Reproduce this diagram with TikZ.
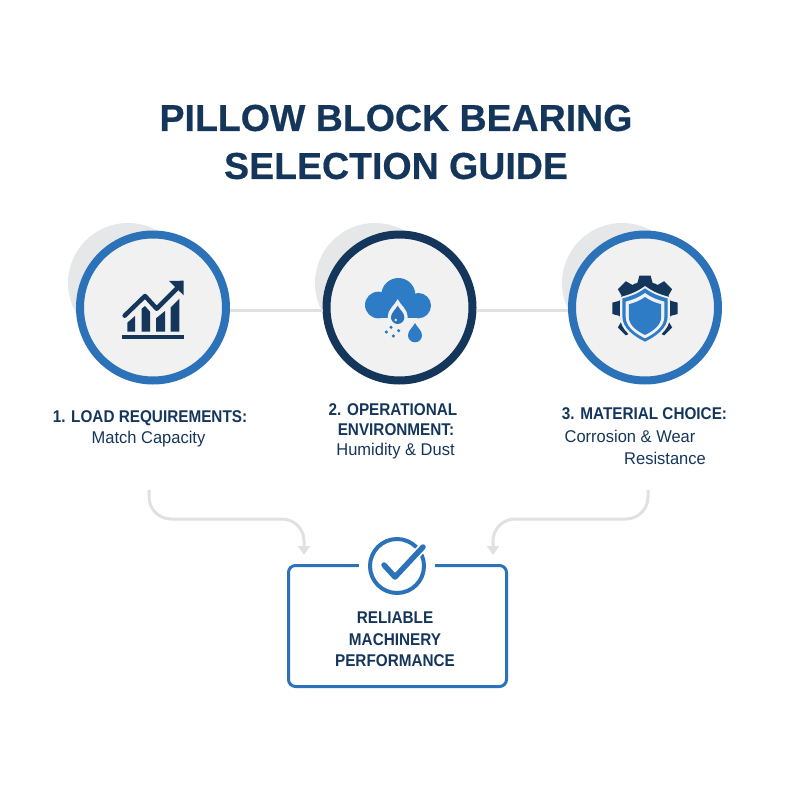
\documentclass[tikz,border=0pt]{standalone}
\usepackage{fontspec}
\setmainfont{Liberation Sans}
\newfontfamily\titlefont[BoldFeatures={FakeBold=.5}]{Liberation Sans}
\newfontfamily\labelfont[FakeStretch=.9]{Liberation Sans}
\newfontfamily\subfont[FakeStretch=.97]{Liberation Sans}
\usepackage{xcolor}
\usetikzlibrary{arrows.meta}
\definecolor{navy}{HTML}{15365B}
\definecolor{ringblue}{HTML}{2B72B9}
\definecolor{iconblue}{HTML}{2F7CC6}
\definecolor{discfill}{HTML}{F1F1F2}
\definecolor{backdisc}{HTML}{E6E7E8}
\definecolor{linkgrey}{HTML}{E0E1E2}
\tikzset{
stepdisc/.style={
  circle,
  draw=ringblue,
  fill=discfill,
  line width=8pt,
  minimum size=146pt,
  inner sep=0pt
},
titletext/.style={text=navy,font=\titlefont\bfseries\fontsize{37.5}{37.5}\selectfont,inner sep=0pt},
headtext/.style={text=navy,font=\labelfont\bfseries\fontsize{17}{17}\selectfont,inner sep=0pt},
subtext/.style={text=navy,font=\subfont\fontsize{17}{17}\selectfont,inner sep=0pt},
link/.style={draw=linkgrey,line width=3pt,rounded corners=22pt},
droplet/.pic={
  \fill[pic actions] (0,-1.75) .. controls (.3,-1.15) and (1,-.7) .. (1,0)
    .. controls (1,.55) and (.55,1) .. (0,1)
    .. controls (-.55,1) and (-1,.55) .. (-1,0)
    .. controls (-1,-.7) and (-.3,-1.15) .. cycle;
},
crest/.pic={
  \fill[pic actions] (0,-1) .. controls (.3,-.78) and (.55,-.7) .. (.85,-.62)
    -- (.85,.05) .. controls (.85,.5) and (.4,.8) .. (0,1)
    .. controls (-.4,.8) and (-.85,.5) .. (-.85,.05)
    -- (-.85,-.62) .. controls (-.55,-.7) and (-.3,-.78) .. cycle;
},
}
\begin{document}
\begin{tikzpicture}[x=1pt,y=-1pt]
\useasboundingbox (0,0) rectangle (800,800);
% the title
\node (titleone) [titletext] at (396,118) {PILLOW BLOCK BEARING};
\node (titletwo) [titletext] at (396,166) {SELECTION GUIDE};
% the discs
\foreach \x in {128,375,622}
{
  \fill[backdisc] (\x,283) circle (60);
}
\node (load) [stepdisc] at (153,307.5) {};
\node (environ) [stepdisc,draw=navy] at (399.5,307.5) {};
\node (material) [stepdisc] at (645,307.5) {};
\draw[link] ([yshift=-2.5pt]load.east) -- ([yshift=-2.5pt]environ.west);
\draw[link] ([yshift=-2.5pt]environ.east) -- ([yshift=-2.5pt]material.west);
% the chart icon
\begin{scope}[shift={(60,210)},scale=1/3]
\fill[navy] (185,375) rectangle (373,387);
\fill[navy] (202,365) -- (202,338) -- (225,318) -- (225,365) -- cycle;
\fill[navy] (245,365) -- (245,296) -- (255,288) -- (270,305) -- (270,365) -- cycle;
\fill[navy] (288,365) -- (288,325) -- (315,303) -- (315,365) -- cycle;
\fill[navy] (332,365) -- (332,292) -- (358,266) -- (358,365) -- cycle;
\draw[discfill,line width=7pt] (190,318) -- (255,258) -- (290,296) -- (345,240);
\draw[navy,line width=4.5pt,line cap=round,line join=round] (194,317) -- (255,258) -- (290,296) -- (350,236);
\fill[navy] (327,213) -- (371,212) -- (371,256) -- cycle;
\end{scope}
% the cloud icon
\begin{scope}[shift={(310,210)},scale=1/3]
\fill[iconblue] (265,255) circle (51) (205,285) circle (40) (325,287) circle (38);
\fill[iconblue] (205,275) rectangle (325,325);
\pic[transform shape,fill=discfill,scale=30] at (263,320) {droplet};
\pic[transform shape,fill=ringblue,scale=20] at (263,322) {droplet};
\fill[discfill] (257,330) circle (4);
\fill[ringblue] (229,366) circle (5) (243,352) circle (5) (266,362) circle (5) (250,378) circle (5);
\pic[transform shape,fill=iconblue,scale=21] at (315,376) {droplet};
\end{scope}
% the gear icon
\begin{scope}[shift={(550,210)},scale=1/3]
\fill[navy] (285,295) circle (80);
\foreach \x in {0,45,90,135,225,270,315}
{
  \fill[navy,rotate around={\x:(285,295)}] (268,197) -- (302,197) -- (312,235) -- (258,235) -- cycle;
}
\fill[discfill] (285,300) -- (232,400) -- (338,400) -- cycle;
\pic[transform shape,fill=discfill,scale=88] at (285,316) {crest};
\pic[transform shape,fill=iconblue,scale=80] at (285,315) {crest};
\pic[transform shape,fill=discfill,scale=68] at (285,317) {crest};
\pic[transform shape,fill=iconblue,scale=57] at (285,318) {crest};
\end{scope}
% the labels
\node (loadhead) [headtext] at (150,418) {1. LOAD REQUIREMENTS:};
\node (loadsub) [subtext] at (148.5,439) {Match Capacity};
\node (environhead) [headtext] at (393,410) {2. OPERATIONAL};
\node (environheadb) [headtext] at (396,430) {ENVIRONMENT:};
\node (environsub) [subtext] at (395.5,451) {Humidity \& Dust};
\node (materialhead) [headtext] at (644.5,414) {3. MATERIAL CHOICE:};
\node (materialsub) [subtext] at (630,436) {Corrosion \& Wear};
\node (materialsubb) [subtext] at (665,458) {Resistance};
% the result box
\node (result) [draw=ringblue,line width=3pt,rounded corners=7pt,minimum width=218pt,minimum height=121pt,inner sep=0pt] at (397.5,626) {};
\node (checkgap) [circle,fill=white,minimum size=76pt,inner sep=0pt] at (397,566) {};
\node (checkring) [circle,draw=ringblue,line width=4pt,minimum size=54pt,inner sep=0pt] at (397,566) {};
\coordinate (checkstart) at (384,565);
\coordinate (checkmid) at (395,577);
\coordinate (checkend) at (423,547);
\draw[white,line width=9pt] (checkmid) -- (checkend);
\draw[ringblue,line width=5.5pt,line cap=round,line join=round] (checkstart) -- (checkmid) -- (checkend);
\node (resultone) [headtext] at (395,618) {RELIABLE};
\node (resulttwo) [headtext] at (395,640) {MACHINERY};
\node (resultthree) [headtext] at (395,661) {PERFORMANCE};
% the arrows
\coordinate (leftfrom) at (149,490);
\coordinate (leftbend) at (149,519);
\coordinate (leftturn) at (304,519);
\coordinate (lefttip) at (304,555);
\coordinate (rightfrom) at (648,490);
\coordinate (rightbend) at (648,519);
\coordinate (rightturn) at (493,519);
\coordinate (righttip) at (493,555);
\draw[link,-{Triangle[length=9pt,width=12pt]}] (leftfrom) -- (leftbend) -- (leftturn) -- (lefttip);
\draw[link,-{Triangle[length=9pt,width=12pt]}] (rightfrom) -- (rightbend) -- (rightturn) -- (righttip);
\end{tikzpicture}
\end{document}
